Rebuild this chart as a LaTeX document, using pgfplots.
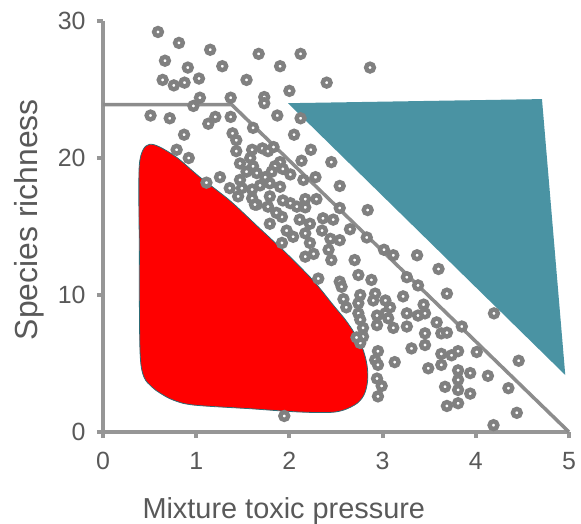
\documentclass[border=0pt]{standalone}
\usepackage{fontspec}
\setmainfont{Liberation Sans}
\usepackage{pgfplots}
\usepackage{pgfplotstable}
\pgfplotsset{compat=1.18}
\definecolor{axgray}{RGB}{150,150,150}
\definecolor{ptgray}{RGB}{128,128,128}
\definecolor{lngray}{RGB}{140,140,140}
\definecolor{txtgray}{RGB}{89,89,89}
\definecolor{tealfill}{RGB}{74,147,163}
\definecolor{blobedge}{RGB}{45,105,115}
\pgfplotstableread{
x y
0.59 29.2
0.815 28.4
1.15 27.9
1.67 27.6
2.12 27.6
0.665 27.1
0.91 26.6
1.28 26.7
1.90 26.7
2.865 26.6
0.64 25.7
0.76 25.3
0.875 25.5
1.03 25.8
1.54 25.7
2.40 25.5
2.00 24.9
1.04 24.4
0.97 23.8
1.37 24.4
1.73 24.45
1.73 24.0
0.51 23.1
0.716 22.9
1.13 22.5
1.205 23.0
1.37 23.0
1.87 23.1
2.12 22.9
0.87 21.7
1.39 21.8
1.43 21.3
1.61 22.2
2.05 21.7
0.79 20.6
0.92 20.0
1.43 20.5
1.60 20.6
1.71 20.7
1.77 20.5
1.83 20.8
1.58 20.0
1.47 19.6
1.90 19.7
2.23 20.6
2.13 19.8
2.45 19.7
1.61 19.4
1.845 19.4
1.93 19.2
1.255 18.6
1.47 18.4
1.54 19.0
1.65 18.9
1.74 18.6
1.81 19.0
2.01 18.8
2.28 18.6
2.15 18.4
2.54 17.96
1.36 17.8
1.49 17.8
1.60 17.7
1.685 18.0
1.79 18.15
1.90 17.9
1.11 18.2
1.45 17.2
1.60 17.06
1.79 17.2
1.93 16.9
1.65 16.6
1.77 16.45
2.01 16.7
2.17 17.0
2.29 17.0
2.54 16.35
2.84 16.2
2.17 16.4
2.22 15.2
2.36 15.6
2.47 15.5
2.35 14.7
2.17 14.5
2.65 14.8
2.44 14.1
2.54 14.0
2.83 14.2
2.22 13.8
2.17 12.8
2.26 13.0
2.42 13.3
2.45 12.55
2.70 12.55
3.015 13.3
3.115 12.9
3.37 12.9
3.60 11.9
2.74 11.46
2.88 11.1
3.26 11.3
3.38 10.7
2.31 11.2
2.54 10.97
2.56 10.6
2.76 10.0
2.58 9.7
2.92 10.1
3.03 9.6
3.08 9.1
3.22 9.9
3.69 10.1
2.61 9.1
2.74 9.4
2.74 8.66
2.90 9.6
2.94 8.5
3.03 8.66
2.94 7.8
3.06 8.3
3.115 7.6
2.79 7.6
2.79 6.96
2.76 6.5
3.26 8.66
3.38 8.5
3.455 8.66
3.44 9.3
3.26 7.7
3.58 8.0
3.455 7.2
3.63 7.2
3.69 7.25
3.85 7.7
4.195 8.66
3.31 6.1
3.455 6.35
2.95 5.9
2.92 5.26
2.95 4.9
3.13 5.1
3.63 5.7
3.74 5.6
3.81 5.9
4.01 5.84
3.49 4.65
3.63 4.9
3.81 4.5
3.94 4.3
4.13 4.1
2.94 3.9
2.99 3.36
3.67 3.3
3.81 3.8
3.81 3.07
3.94 2.8
4.35 3.2
4.46 5.2
2.95 2.6
3.69 1.9
3.81 2.1
4.44 1.4
4.19 0.5
1.945 1.17
1.63 16.6
1.79 15.2
1.92 15.7
1.97 14.7
1.92 13.8
2.11 15.5
2.08 16.45
1.86 16.0
2.04 14.25
2.76 8.2
2.72 6.9
}\scatterdata
\begin{document}
\begin{tikzpicture}
\useasboundingbox (-103bp,-92bp) rectangle (478bp,432bp);
\begin{axis}[
  at={(0,0)}, anchor=south west,
  scale only axis, width=466bp, height=411bp,
  xmin=0, xmax=5, ymin=0, ymax=30,
  axis lines=left,
  axis line style={-, draw=axgray, line width=4bp},
  xtick={0,1,2,3,4,5}, ytick={0,10,20,30},
  tick align=outside, major tick length=6bp,
  every tick/.style={draw=axgray, line width=4bp},
  /pgf/number format/assume math mode=true,
  tick label style={font=\fontsize{25}{25}\selectfont, text=txtgray},
  xticklabel style={anchor=north, yshift=-11bp},
  yticklabel style={anchor=east, xshift=-8bp},
  xlabel={Mixture toxic pressure},
  ylabel={Species richness},
  xlabel style={font=\fontsize{29}{29}\selectfont, text=txtgray,
    at={(axis description cs:0.388,0)}, anchor=base, yshift=-86bp},
  ylabel style={font=\fontsize{32}{32}\selectfont, text=txtgray,
    at={(axis description cs:0,0.5167)}, anchor=base, yshift=65bp},
  clip=false,
]
\addplot[lngray, line width=3.5bp] coordinates {(0,23.9) (1.38,23.9) (5,0)};
\addplot[only marks, mark=*, mark size=3.9bp,
  mark options={draw=ptgray, fill=white, line width=4.4bp}] table[x=x, y=y] {\scatterdata};
\addplot[fill=red, draw=blobedge, line width=0.8bp, smooth, tension=0.55] coordinates {
(1.96,13.1) (2.25,11.1) (2.47,9.27) (2.60,8.2) (2.70,7.2) (2.78,6.2) (2.83,5.0)
(2.84,3.8) (2.80,2.7) (2.70,1.97) (2.49,1.46) (2.11,1.46) (1.58,1.7) (0.97,1.97)
(0.75,2.34) (0.61,2.85) (0.526,3.28) (0.44,4.0) (0.40,5.5) (0.39,9.6) (0.39,13.3)
(0.385,16.9) (0.39,19.5) (0.43,20.6) (0.50,21.0) (0.61,20.8) (0.80,20.0) (1.04,18.6)
(1.36,16.9) (1.66,15.0) (1.96,13.1)} -- cycle;
\addplot[fill=tealfill, draw=none] coordinates {(1.985,24.0) (4.71,24.3) (4.96,4.16)} -- cycle;
\end{axis}
\end{tikzpicture}
\end{document}
